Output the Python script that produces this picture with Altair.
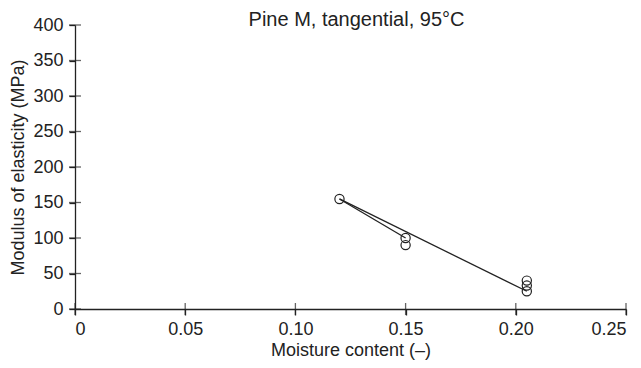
import altair as alt
import pandas as pd

# measured points
pt_x = [0.12, 0.15, 0.15, 0.205, 0.205, 0.205]
pt_y = [155, 100, 90, 40, 33, 25]

# line segments (series id, x, y)
ln_id = ["a", "a", "b", "b"]
ln_x = [0.12, 0.15, 0.12, 0.205]
ln_y = [155, 100, 155, 25]

x_ticks = [0, 0.05, 0.10, 0.15, 0.20, 0.25]
y_ticks = [0, 50, 100, 150, 200, 250, 300, 350, 400]

pts = pd.DataFrame({"x": pt_x, "y": pt_y})
lns = pd.DataFrame({"id": ln_id, "x": ln_x, "y": ln_y})

FONT = "Liberation Sans"
INK = "#222222"

xscale = alt.Scale(domain=[0, 0.25], nice=False, zero=False)
yscale = alt.Scale(domain=[0, 400], nice=False)

x_label_expr = "datum.value == 0 ? '0' : format(datum.value, '.2f')"

xaxis = alt.Axis(values=x_ticks, labelExpr=x_label_expr, title="Moisture content (\u2013)",
                 labelPadding=5, titlePadding=3, labelOverlap=False)
yaxis = alt.Axis(values=y_ticks, title="Modulus of elasticity (MPa)",
                 labelPadding=6, titlePadding=5, labelOverlap=False)

X = alt.X("x:Q", scale=xscale, axis=xaxis)
Y = alt.Y("y:Q", scale=yscale, axis=yaxis)

lines = alt.Chart(lns).mark_line(color=INK, strokeWidth=1.3).encode(x=X, y=Y, detail="id:N")
points = alt.Chart(pts).mark_point(shape="circle", filled=False, color=INK, size=85,
                                   strokeWidth=1.2, opacity=1).encode(x=X, y=Y)

# inward halves of the crossing tick marks
xt = pd.DataFrame({"x": x_ticks, "y": [0] * len(x_ticks)})
yt = pd.DataFrame({"x": [0] * len(y_ticks), "y": y_ticks})
xin = alt.Chart(xt).mark_tick(orient="vertical", size=12, thickness=1.3, color=INK).encode(x=X, y=Y)
yin = alt.Chart(yt).mark_tick(orient="horizontal", size=12, thickness=1.3, color=INK).encode(x=X, y=Y)

chart = alt.layer(lines, points, xin, yin).properties(
    width=551, height=284,
    title=alt.TitleParams("Pine M, tangential, 95\u00b0C", font=FONT, fontSize=20, fontWeight="normal",
                          color=INK, anchor="middle", dx=6, offset=-14),
    autosize=alt.AutoSizeParams(type="none"),
    padding={"left": 67, "top": 17, "right": 7, "bottom": 59},
    background="white",
).configure_view(stroke=None).configure_axis(
    grid=False, tickSize=6, tickColor=INK, domainColor=INK, labelColor=INK, titleColor=INK,
    labelFontSize=18, titleFontSize=18, labelFont=FONT, titleFont=FONT,
    titleFontWeight="normal", domainWidth=1.3, tickWidth=1.3,
)

chart.save("out.html", embed_options={"renderer": "svg", "actions": False})
